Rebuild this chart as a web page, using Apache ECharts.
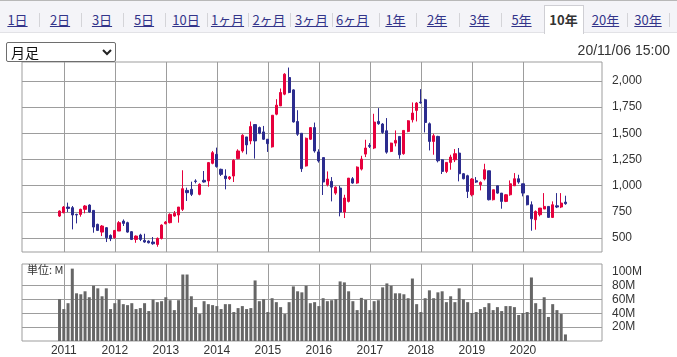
<!DOCTYPE html>
<html>
<head>
<meta charset="utf-8">
<script src="https://cdn.jsdelivr.net/npm/echarts@6/dist/echarts.min.js"></script>
<style>
html,body{margin:0;padding:0;background:#fff;}
#wrap{position:relative;width:677px;height:357px;overflow:hidden;}
#chart{position:absolute;left:0;top:0;width:677px;height:357px;}
#tabs{position:absolute;left:0;top:0;width:677px;height:33px;background:#f4f4f8;border-top:1px solid #b8b8b8;border-bottom:1px solid #e2e2e6;box-sizing:border-box;z-index:2;}
.tab{position:absolute;top:11px;transform:translateX(-50%);font-family:"Noto Sans CJK JP",sans-serif;font-size:13px;line-height:15px;color:#33348a;text-decoration:underline;white-space:nowrap;}
.sep{position:absolute;top:12px;width:1px;height:14px;background:#d4d4d8;}
#cur{position:absolute;left:544px;top:4px;width:40px;height:29px;background:#fff;border:1px solid #cfcfd4;border-bottom:none;box-sizing:border-box;}
#cur span{position:absolute;left:50%;top:6px;transform:translateX(-50%);font-family:"Noto Sans CJK JP",sans-serif;font-size:13px;line-height:15px;font-weight:bold;color:#333;white-space:nowrap;}
#sel{position:absolute;left:6px;top:42px;width:110px;height:20px;border:1px solid #6e6e6e;border-radius:2px;box-sizing:border-box;background:#fff;z-index:2;}
#sel span{position:absolute;left:4px;top:0px;font-family:"Noto Sans CJK JP",sans-serif;font-size:14px;line-height:18px;color:#111;}
#sel svg{position:absolute;left:95px;top:6px;}
#stamp{position:absolute;right:7px;top:41px;font-family:"Liberation Sans",Arial,sans-serif;font-size:14px;line-height:18px;color:#333;z-index:2;}
</style>
</head>
<body>
<div id="wrap">
  <div id="chart"></div>
  <div id="tabs"></div>
  <div id="sel"><span>月足</span><svg width="10" height="7" viewBox="0 0 10 7"><polyline points="1,1 5,5 9,1" fill="none" stroke="#222" stroke-width="2"/></svg></div>
  <div id="stamp">20/11/06 15:00</div>
</div>
<script>
// ---- header tabs ----
const tabLabels = ['1日','2日','3日','5日','10日','1ヶ月','2ヶ月','3ヶ月','6ヶ月','1年','2年','3年','5年','10年','20年','30年'];
const tabCenters = [17.5,60,102,144,186,227.5,269,311.5,352.5,395.5,437,479.5,521.5,563.5,605.5,648];
const tabSeps = [39,81,123,165,207,248,290,332,379,416,459,501,627,669];
const selectedTab = '10年';

// ---- data (monthly, Dec 2010 .. Nov 2020) ----
const startYear = 2010, startMonth = 12, monthCount = 120;
const months = [];
for (let i = 0; i < monthCount; i++) {
  const m = (startMonth - 1 + i) % 12 + 1;
  const y = startYear + Math.floor((startMonth - 1 + i) / 12);
  months.push(y + '/' + (m < 10 ? '0' + m : m));
}
const openP = [
  710,742,796,790,726,726,774,815,764,631, 557,599,525,503,567,662,647,561,487,529,
  478,471,462,439,497,637,647,710,720,774, 955,965,1045,917,1051,1045,1213,1299,1156,1092,
  1067,1092,1258,1331,1465,1427,1583,1554,1513,1443, 1370,1682,1761,1873,2032,1914,1612,1500,1188,1443,
  1554,1322,1268,1009,1041,929,977,748,850,1066, 1025,1158,1301,1384,1359,1613,1588,1524,1327,1406,
  1470,1305,1518,1629,1718,1797,1820,1591,1422,1470, 1247,1136,1222,1247,1311,1114,1095,913,1047,1009,
  1063,1142,866,999,929,850,913,999,1066,1018, 904,818,675,723,777,802,697,808,796,843
];
const closeP = [
  758,796,783,720,720,774,806,748,605,573, 615,503,494,573,647,640,557,487,519,487,
  462,455,446,497,624,653,726,736,796,971, 933,917,1040,1013,1035,1220,1315,1182,1108,1067,
  1083,1242,1331,1481,1389,1564,1427,1500,1443,1401, 1672,1768,1889,2064,1889,1608,1491,1162,1452,1554,
  1331,1236,1035,1063,986,986,748,882,1072,1025, 1177,1254,1359,1375,1607,1591,1508,1320,1406,1432,
  1295,1527,1619,1693,1788,1791,1603,1422,1476,1238, 1136,1222,1273,1305,1114,1066,945,1063,1034,1031,
  1152,866,961,929,850,913,1018,1066,1034,929, 818,684,754,786,802,697,818,796,834,828
];
const lowP = [
  701,736,748,583,640,704,736,742,551,567, 519,462,471,494,567,615,551,481,455,471,
  455,449,436,417,487,631,640,704,647,758, 854,901,1022,908,1029,990,1204,1172,1092,965,
  1054,1035,1252,1315,1299,1395,1258,1491,1436,1322, 1363,1672,1761,1863,1882,1602,1475,1131,1182,1436,
  1315,1220,911,993,850,913,707,691,840,1018, 1018,1145,1273,1359,1349,1581,1495,1305,1320,1375,
  1257,1295,1510,1603,1613,1782,1508,1336,1295,1222, 1111,1120,1152,1225,1041,1060,882,898,1025,955,
  1050,859,859,923,780,843,904,999,1018,898, 812,570,580,707,777,697,691,786,786,818
];
const highP = [
  764,806,838,806,732,780,815,822,768,637, 624,605,535,576,662,678,656,567,525,541,
  541,478,510,506,631,662,736,758,796,1147, 981,1038,1061,1022,1140,1226,1331,1363,1162,1156,
  1092,1252,1347,1491,1465,1612,1586,1564,1570,1443, 1672,1825,1927,2073,2127,1920,1720,1500,1459,1557,
  1602,1347,1268,1136,1082,993,999,913,1072,1082, 1184,1285,1438,1406,1686,1740,1597,1645,1410,1527,
  1470,1527,1625,1794,1797,1921,1829,1603,1495,1476, 1254,1222,1295,1349,1359,1120,1104,1072,1082,1041,
  1209,1142,961,999,929,920,1050,1120,1104,1018, 904,850,764,786,929,802,850,929,929,904
];
// volume in millions of shares
const volume = [
  60.5,46.2,54.7,104.7,69,67.6,71.9,63.3,80,76.2, 64.7,76.2,46.2,54.7,60,53.3,51.9,54.7,46.2,47.6,
  54.7,43.3,60,56.2,57.6,63.3,59,44.7,59,96.2, 96.2,64.7,49,39,57.6,53.3,51.9,50.5,46.2,53.3,
  53.3,41.9,47.6,50.5,46.2,47.6,87.6,57.6,60.5,41.9, 61.9,56.2,49,39,56.2,79,71.9,70.4,80,54.7,
  56.2,50.5,61.9,57.6,59,60.5,86.2,84.8,71.9,57.6, 44.7,62.4,59.5,44.7,57.6,59,77.6,83.3,80,69,
  69,67.6,61.9,90.4,53.3,41.9,61.9,73.3,61.9,70.4, 71.9,56.2,64.7,56.2,76.2,60.5,56.2,40.5,41.9,46.2,
  49,54.7,44.7,49,43.3,50.5,50.5,49,37.6,40.5, 41.9,91.9,54.7,46.2,63.3,34.8,53.3,44.7,39,9.5
];
const yearLabels = ['2011','2012','2013','2014','2015','2016','2017','2018','2019','2020'];
const priceTicks = [500,750,1000,1250,1500,1750,2000];
const volumeLabelTicks = [20,40,60,80,100];
const volumeGridTicks = [20,40,60,80];
const unitLabel = '単位: M';

// ---- header DOM ----
const tabsEl = document.getElementById('tabs');
tabSeps.forEach(x => {
  const s = document.createElement('div'); s.className = 'sep'; s.style.left = x + 'px'; tabsEl.appendChild(s);
});
tabLabels.forEach((t, i) => {
  if (t === selectedTab) {
    const c = document.createElement('div'); c.id = 'cur';
    c.style.left = (tabCenters[i] - 20) + 'px';
    const sp = document.createElement('span'); sp.textContent = t; c.appendChild(sp);
    tabsEl.appendChild(c);
  } else {
    const a = document.createElement('span'); a.className = 'tab'; a.textContent = t;
    a.style.left = tabCenters[i] + 'px'; tabsEl.appendChild(a);
  }
});

// ---- chart ----
const chart = echarts.init(document.getElementById('chart'), null, {renderer: 'canvas'});
const candleData = months.map((m, i) => [i, openP[i], closeP[i], lowP[i], highP[i]]);
const volData = months.map((m, i) => [i, volume[i]]);
const yearIdx = yearLabels.map(y => months.indexOf(y + '/01'));
const gridColor = '#9d9d9d';
const labelFont = {color: '#333', fontSize: 12, fontFamily: 'Liberation Sans, Arial, sans-serif'};
const xMin = -8.83, xMax = 127.6;

chart.setOption({
  animation: false,
  grid: [
    {left: 22, top: 62, width: 580, height: 190, show: true, borderColor: gridColor, borderWidth: 1},
    {left: 22, top: 264, width: 580, height: 78, show: true, borderColor: gridColor, borderWidth: 1}
  ],
  xAxis: [
    {type: 'value', gridIndex: 0, min: xMin, max: xMax,
     axisLine: {show: false}, axisTick: {show: false, customValues: yearIdx},
     axisLabel: {show: false},
     splitLine: {show: true, lineStyle: {color: gridColor, width: 1}}},
    {type: 'value', gridIndex: 1, min: xMin, max: xMax,
     axisLine: {show: false}, axisTick: {show: false, customValues: yearIdx},
     axisLabel: Object.assign({show: true, customValues: yearIdx, margin: 4,
       formatter: v => yearLabels[yearIdx.indexOf(Math.round(v))]}, labelFont),
     splitLine: {show: true, lineStyle: {color: gridColor, width: 1}}}
  ],
  yAxis: [
    {type: 'value', gridIndex: 0, position: 'right', min: 367, max: 2180,
     axisLine: {show: false},
     axisTick: {show: true, inside: false, length: 4, customValues: priceTicks, lineStyle: {color: gridColor}},
     axisLabel: Object.assign({customValues: priceTicks, margin: 10,
       formatter: v => Number(v).toLocaleString('en-US')}, labelFont),
     splitLine: {show: true, lineStyle: {color: gridColor, width: 1}}},
    {type: 'value', gridIndex: 1, position: 'right', min: 0, max: 111.4,
     axisLine: {show: false},
     axisTick: {show: true, inside: false, length: 4, customValues: volumeGridTicks, lineStyle: {color: gridColor}},
     axisLabel: Object.assign({customValues: volumeLabelTicks, margin: 10,
       formatter: v => v + 'M'}, labelFont),
     splitLine: {show: true, lineStyle: {color: gridColor, width: 1}}}
  ],
  series: [
    {type: 'candlestick', xAxisIndex: 0, yAxisIndex: 0, data: candleData, barWidth: 2.7,
     itemStyle: {color: '#e6003c', color0: '#2c2c8e', borderColor: '#e6003c', borderColor0: '#2c2c8e', borderWidth: 1}},
    {type: 'bar', xAxisIndex: 1, yAxisIndex: 1, data: volData, barWidth: 3,
     itemStyle: {color: '#666666'}}
  ],
  graphic: [
    {type: 'text', left: 27, top: 264, z: 10,
     style: {text: unitLabel, fontSize: 11, fill: '#333', fontFamily: 'Noto Sans CJK JP, sans-serif'}}
  ]
});
</script>
</body>
</html>
